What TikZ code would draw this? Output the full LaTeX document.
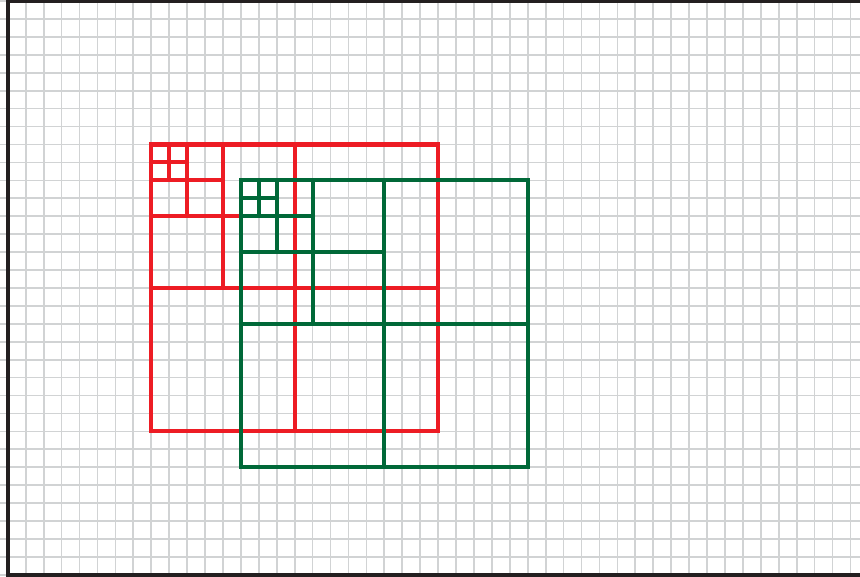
\documentclass[tikz,border=0pt]{standalone}
\definecolor{gridgray}{RGB}{209,211,212}
\definecolor{framebk}{RGB}{35,31,32}
\definecolor{qred}{RGB}{237,28,36}
\definecolor{qgreen}{RGB}{0,104,56}
\tikzset{
  gridline/.style={draw=gridgray,line width=1.35pt},
  frameline/.style={draw=framebk,line width=3.2pt},
  redtree/.style={draw=qred,line width=3.2pt,line cap=rect},
  greentree/.style={draw=qgreen,line width=3.2pt,line cap=rect}
}
\begin{document}
\begin{tikzpicture}[x=0.5cm,y=-0.5cm]
\useasboundingbox (-0.435,-0.059) rectangle (47.53,32.12);
\clip (-0.435,-0.059) rectangle (47.53,32.12);
% grid
\foreach \k in {0,...,48} \draw[gridline] (\k,-1) -- (\k,33);
\foreach \k in {0,...,33} \draw[gridline] (-1,\k) -- (49,\k);
% frame
\draw[frameline] (52,0) -- (0,0) -- (0,32) -- (52,32);
% red quadtree
\draw[redtree] (8,8) rectangle (24,24);
\draw[redtree] (16,8) -- (16,24) (8,16) -- (24,16);
\draw[redtree] (12,8) -- (12,16) (8,12) -- (16,12);
\draw[redtree] (10,8) -- (10,12) (8,10) -- (12,10);
\draw[redtree] (9,8) -- (9,10) (8,9) -- (10,9);
% green quadtree
\draw[greentree] (13,10) rectangle (29,26);
\draw[greentree] (21,10) -- (21,26) (13,18) -- (29,18);
\draw[greentree] (17,10) -- (17,18) (13,14) -- (21,14);
\draw[greentree] (15,10) -- (15,14) (13,12) -- (17,12);
\draw[greentree] (14,10) -- (14,12) (13,11) -- (15,11);
\end{tikzpicture}
\end{document}
